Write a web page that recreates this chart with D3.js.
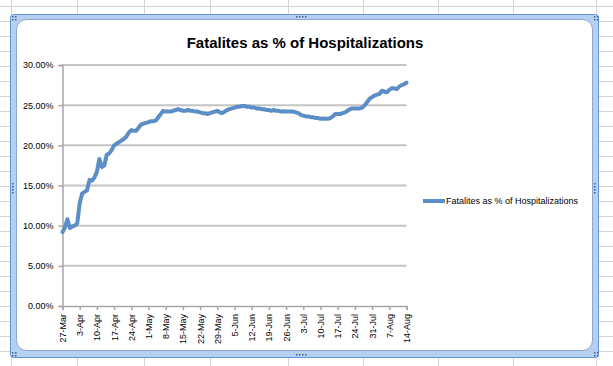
<!DOCTYPE html>
<html>
<head>
<meta charset="utf-8">
<script src="https://cdn.jsdelivr.net/npm/d3@7"></script>
<style>
  body { margin: 0; background: #fff; }
  svg { display: block; font-family: "Liberation Sans", Arial, sans-serif; }
</style>
</head>
<body>
<div id="chart"></div>
<script>
var width  = 613,
    height = 366;

// data
var seriesName = "Fatalites as % of Hospitalizations";
var startDate  = "2020-03-27";
// daily value (%) from 27 Mar to 14 Aug
var pctValues = [
   9.2,  9.8, 10.8,  9.7,  9.9, 10.0, 10.3, 12.8, 14.0, 14.2,
  14.4, 15.7, 15.6, 16.0, 16.7, 18.3, 17.3, 17.5, 18.8, 19.0,
  19.4, 20.0, 20.2, 20.4, 20.6, 20.8, 21.1, 21.6, 21.9, 21.8,
  21.8, 22.2, 22.6, 22.7, 22.8, 22.9, 23.0, 23.0, 23.1, 23.5,
  23.9, 24.3, 24.2, 24.2, 24.2, 24.3, 24.4, 24.5, 24.4, 24.3,
  24.3, 24.4, 24.3, 24.3, 24.2, 24.2, 24.1, 24.0, 24.0, 23.9,
  24.0, 24.1, 24.2, 24.3, 24.1, 24.0, 24.2, 24.4, 24.5, 24.6,
  24.7, 24.8, 24.8, 24.9, 24.9, 24.8, 24.8, 24.7, 24.7, 24.6,
  24.6, 24.5, 24.5, 24.4, 24.4, 24.3, 24.4, 24.3, 24.3, 24.2,
  24.25,24.2, 24.2, 24.2, 24.2, 24.1, 24.0, 23.8, 23.7, 23.6,
  23.6, 23.5, 23.5, 23.4, 23.4, 23.3, 23.35,23.3, 23.3, 23.4,
  23.6, 23.9, 23.9, 23.9, 24.0, 24.1, 24.3, 24.5, 24.6, 24.6,
  24.6, 24.6, 24.7, 25.0, 25.4, 25.8, 26.0, 26.2, 26.3, 26.4,
  26.8, 26.7, 26.6, 26.9, 27.1, 27.1, 27.0, 27.3, 27.5, 27.6,
  27.8
];
var xTickLabels = ["27-Mar", "3-Apr", "10-Apr", "17-Apr", "24-Apr", "1-May", "8-May",
                   "15-May", "22-May", "29-May", "5-Jun", "12-Jun", "19-Jun", "26-Jun",
                   "3-Jul", "10-Jul", "17-Jul", "24-Jul", "31-Jul", "7-Aug", "14-Aug"];
var yTicks = [0, 5, 10, 15, 20, 25, 30];

var parseDay  = d3.timeParse("%Y-%m-%d"),
    parseTick = d3.timeParse("%d-%b-%Y"),
    fmtTick   = d3.timeFormat("%-d-%b");

var day0 = parseDay(startDate);
var points = pctValues.map(function(v, i) {
    return { date: d3.timeDay.offset(day0, i), value: v };
});
var tickDates = xTickLabels.map(function(s) { return parseTick(s + "-2020"); });

var plot = { left: 62.5, right: 406.5, top: 65, bottom: 306 };

var x = d3.scaleTime()
    .domain([tickDates[0], tickDates[tickDates.length - 1]])
    .range([plot.left, plot.right]);
var y = d3.scaleLinear()
    .domain([0, 30])
    .range([plot.bottom, plot.top]);

var svg = d3.select("#chart").append("svg")
    .attr("width", width)
    .attr("height", height);

// spreadsheet cells behind the chart
var colX = [11, 77, 144, 210, 288, 363, 438, 513, 596];
var sheet = svg.append("g").attr("class", "sheet");
sheet.selectAll("line.col")
    .data(colX)
    .enter().append("line")
    .attr("x1", function(d) { return d + 0.5; })
    .attr("x2", function(d) { return d + 0.5; })
    .attr("y1", 0).attr("y2", height)
    .style("stroke", "#d4d4d4");
sheet.selectAll("line.row")
    .data(d3.range(6, height, 15))
    .enter().append("line")
    .attr("x1", 0).attr("x2", width)
    .attr("y1", function(d) { return d + 0.5; })
    .attr("y2", function(d) { return d + 0.5; })
    .style("stroke", "#d4d4d4");

// chart object frame
svg.append("rect")
    .attr("x", 10.5).attr("y", 14.5)
    .attr("width", 588).attr("height", 343)
    .attr("rx", 3)
    .style("fill", "#b7cff0")
    .style("stroke", "#6593d8");
svg.append("rect")
    .attr("x", 16.5).attr("y", 19.5)
    .attr("width", 576).attr("height", 331)
    .attr("rx", 10)
    .style("fill", "#fff")
    .style("stroke", "#8aa6cf");

// little resize handles
var handles = [[296, 16], [296, 354], [12, 183], [594, 183]];
handles.forEach(function(h, i) {
    var g = svg.append("g");
    d3.range(4).forEach(function(k) {
        g.append("rect")
            .attr("x", i < 2 ? h[0] + k * 3 : h[0])
            .attr("y", i < 2 ? h[1] : h[1] + k * 3)
            .attr("width", 1.5).attr("height", 1.5)
            .style("fill", "#3d5f95");
    });
});
[[12, 16], [594, 16], [12, 352], [594, 352]].forEach(function(c) {
    [[0, 0], [3, 0], [0, 3], [3, 3]].forEach(function(o) {
        svg.append("rect")
            .attr("x", c[0] + o[0]).attr("y", c[1] + o[1])
            .attr("width", 1.5).attr("height", 1.5)
            .style("fill", "#3d5f95");
    });
});

// title
svg.append("text")
    .attr("x", 305)
    .attr("y", 48)
    .attr("text-anchor", "middle")
    .style("font-size", "15px")
    .style("font-weight", "bold")
    .text(seriesName);

// gridlines
svg.append("g").selectAll("line")
    .data(yTicks.slice(1))
    .enter().append("line")
    .attr("x1", plot.left).attr("x2", plot.right)
    .attr("y1", function(d) { return y(d); })
    .attr("y2", function(d) { return y(d); })
    .style("stroke", "#c4c4c4")
    .style("stroke-width", 2);

// y axis
var yAxis = svg.append("g")
    .attr("transform", "translate(" + plot.left + ",0)")
    .call(d3.axisLeft(y).tickValues(yTicks).tickSize(4).tickPadding(5)
        .tickFormat(function(d) { return d3.format(".2f")(d) + "%"; }));
// x axis
var xAxis = svg.append("g")
    .attr("transform", "translate(0," + plot.bottom + ")")
    .call(d3.axisBottom(x).tickValues(tickDates).tickSize(4).tickFormat(fmtTick));

[yAxis, xAxis].forEach(function(a) {
    a.select(".domain").style("stroke", "#a6a6a6").style("stroke-width", 1.5);
    a.selectAll(".tick line").style("stroke", "#a6a6a6").style("stroke-width", 1.5);
    a.selectAll("text")
        .style("font-family", "'Liberation Sans', Arial, sans-serif")
        .style("font-size", "9px")
        .style("fill", "#000");
});
xAxis.selectAll("text")
    .attr("transform", "rotate(-90)")
    .attr("text-anchor", "end")
    .attr("x", -8)
    .attr("y", 0)
    .attr("dy", "0.33em");

// the series line
var line = d3.line()
    .x(function(d) { return x(d.date); })
    .y(function(d) { return y(d.value); });

svg.append("path")
    .datum(points)
    .attr("d", line)
    .style("fill", "none")
    .style("stroke", "#5b8dc6")
    .style("stroke-width", 4)
    .style("stroke-linejoin", "round")
    .style("stroke-linecap", "round");

// legend
var legend = svg.append("g").attr("transform", "translate(423,201)");
legend.append("line")
    .attr("x1", 0).attr("x2", 22)
    .style("stroke", "#5b8dc6")
    .style("stroke-width", 4);
legend.append("text")
    .attr("x", 23)
    .attr("dy", "0.35em")
    .style("font-size", "9px")
    .text(seriesName);
</script>
</body>
</html>
